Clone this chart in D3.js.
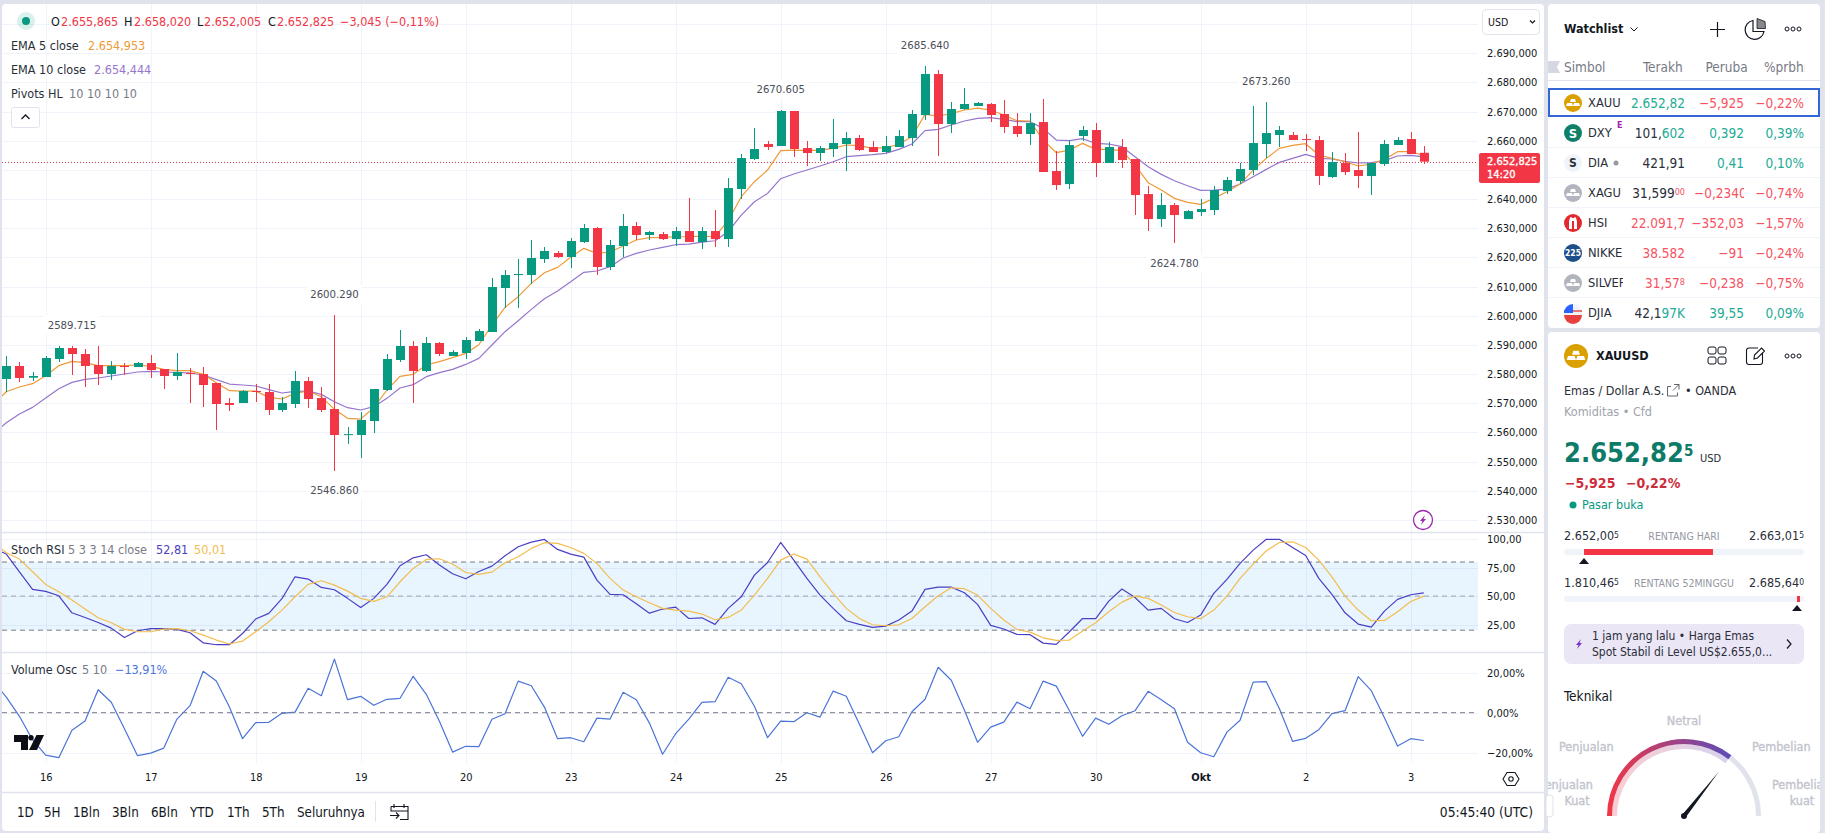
<!DOCTYPE html>
<html>
<head>
<meta charset="utf-8">
<title>XAUUSD</title>
<script src="https://cdn.jsdelivr.net/npm/d3@7"></script>
<style>
html,body{margin:0;padding:0;background:#e0e3eb;}
svg{display:block;}
text{font-family:"DejaVu Sans Condensed","DejaVu Sans",sans-serif;}
</style>
</head>
<body>
<svg id="chart" width="1825" height="833"></svg>
<script>
// candles, one per 3 hours
var open = [2578.30,2582.76,2578.75,2578.98,2585.16,2588.93,2586.87,2583.10,2580.01,2582.76,2582.41,2583.79,2581.73,2579.33,2580.40,2580.01,2576.93,2570.07,2570.07,2574.20,2573.84,2567.67,2569.73,2577.61,2571.78,2568.01,2559.10,2559.10,2563.89,2574.53,2584.81,2589.62,2581.04,2590.64,2586.18,2587.21,2591.32,2594.41,2609.50,2613.95,2613.95,2619.44,2621.50,2620.13,2625.27,2630.07,2616.70,2623.90,2630.76,2627.67,2628.00,2626.28,2629.03,2625.26,2629.03,2626.28,2643.43,2653.72,2658.86,2658.17,2670.18,2657.49,2655.77,2657.15,2658.86,2660.92,2657.83,2656.12,2657.83,2660.92,2668.80,2682.86,2665.72,2670.86,2671.89,2672.58,2669.15,2665.03,2662.29,2666.40,2649.60,2645.14,2661.60,2663.66,2652.35,2657.83,2653.72,2641.71,2633.14,2637.94,2633.14,2635.54,2636.23,2642.74,2646.17,2649.95,2658.86,2661.95,2661.95,2660.58,2660.23,2647.55,2652.35,2649.95,2647.89,2652.00,2658.52,2660.58,2655.865];
var high = [2586.19,2584.13,2580.70,2586.19,2589.50,2589.715,2588.59,2589.62,2584.47,2583.79,2584.13,2586.53,2581.73,2587.21,2582.07,2582.41,2576.93,2571.78,2574.40,2576.58,2576.58,2572.13,2581.04,2578.98,2575.56,2600.29,2561.84,2566.98,2574.87,2586.87,2595.10,2591.33,2592.70,2590.99,2588.24,2592.69,2595.44,2612.93,2615.67,2619.44,2625.95,2623.55,2622.18,2626.64,2631.44,2630.41,2625.95,2634.87,2632.13,2629.04,2628.68,2630.40,2640.34,2630.40,2636.23,2647.20,2655.43,2664.35,2659.89,2670.605,2670.30,2659.89,2658.17,2667.43,2662.97,2661.95,2659.89,2661.60,2663.66,2670.52,2685.64,2684.23,2673.26,2678.06,2673.26,2672.92,2673.95,2669.49,2669.49,2674.29,2656.46,2660.23,2665.03,2666.06,2659.55,2660.58,2653.72,2644.46,2642.06,2638.63,2636.23,2640.00,2644.46,2647.55,2652.35,2671.89,2673.26,2665.03,2662.97,2662.29,2661.60,2656.12,2655.78,2663.015,2652.35,2660.24,2661.26,2662.98,2658.02];
var low = [2573.72,2577.27,2577.61,2578.98,2584.13,2579.67,2575.56,2576.24,2577.95,2579.67,2582.41,2578.64,2574.87,2577.95,2570.07,2568.70,2560.81,2567.33,2570.07,2570.41,2565.95,2566.98,2568.35,2568.35,2566.98,2546.86,2556.01,2551.21,2559.78,2574.18,2584.13,2570.07,2580.70,2586.19,2586.18,2585.15,2591.32,2594.41,2602.64,2602.64,2610.87,2618.07,2619.78,2616.35,2624.93,2613.95,2615.67,2620.13,2625.95,2625.95,2625.94,2623.88,2625.26,2622.85,2623.54,2623.54,2640.00,2653.37,2656.80,2658.17,2654.40,2651.32,2653.03,2654.40,2649.60,2656.46,2656.12,2655.77,2657.83,2658.17,2667.09,2654.75,2662.63,2670.52,2671.89,2666.40,2662.63,2661.26,2658.52,2649.26,2643.09,2643.43,2659.89,2647.55,2652.35,2650.63,2634.51,2629.03,2630.40,2624.78,2633.14,2634.17,2634.51,2641.71,2645.14,2648.23,2654.06,2657.83,2660.23,2656.46,2644.80,2647.20,2648.23,2643.78,2641.38,2651.32,2658.52,2655.43,2652.005];
var close = [2582.76,2578.64,2579.33,2585.50,2588.93,2586.87,2582.76,2580.01,2582.76,2582.41,2583.79,2581.38,2579.33,2580.70,2580.00,2576.24,2569.73,2569.40,2574.18,2573.84,2567.67,2570.07,2577.61,2571.44,2567.67,2559.10,2559.40,2564.24,2574.87,2585.16,2589.62,2581.04,2590.64,2586.87,2587.55,2591.67,2594.75,2609.84,2613.95,2614.30,2619.78,2622.18,2620.13,2625.61,2630.07,2616.70,2624.24,2630.76,2627.67,2628.70,2626.28,2629.03,2625.26,2629.03,2626.28,2643.77,2654.06,2657.15,2657.83,2670.18,2657.15,2655.77,2657.49,2659.20,2660.92,2656.80,2656.12,2658.17,2661.60,2669.15,2682.86,2665.72,2670.86,2672.58,2672.92,2668.80,2664.69,2662.29,2666.06,2649.26,2644.80,2658.52,2663.66,2652.35,2657.83,2653.37,2641.37,2633.14,2637.94,2634.51,2635.88,2636.57,2643.09,2646.52,2650.29,2659.20,2662.63,2663.66,2660.23,2660.23,2647.89,2652.69,2649.26,2647.89,2652.35,2658.86,2660.24,2655.43,2652.825];

// indicator lines: the first value belongs to the bar just left of the first candle
var ema5 = [2569.50,2573.95,2575.56,2576.70,2579.44,2582.87,2584.36,2583.90,2582.87,2582.87,2582.87,2583.10,2582.64,2581.61,2581.16,2581.16,2579.90,2577.04,2574.30,2574.18,2574.18,2572.01,2571.44,2573.38,2574.18,2572.24,2567.90,2564.81,2564.58,2568.47,2574.53,2579.21,2579.90,2583.10,2584.24,2585.61,2587.09,2590.06,2596.81,2602.87,2606.52,2611.10,2614.75,2616.58,2620.01,2623.10,2621.38,2621.84,2623.90,2625.96,2626.76,2626.86,2627.08,2627.08,2627.31,2627.08,2632.57,2640.80,2645.94,2649.94,2656.57,2656.80,2656.57,2656.80,2657.37,2658.52,2658.29,2657.37,2657.60,2658.75,2661.37,2669.03,2668.46,2669.26,2670.52,2671.20,2670.52,2668.80,2666.86,2666.75,2660.23,2655.89,2656.80,2659.09,2657.03,2657.03,2656.57,2651.66,2645.60,2643.09,2640.23,2638.86,2638.17,2640.23,2642.51,2645.14,2649.94,2653.94,2657.37,2658.40,2658.97,2655.09,2653.95,2652.80,2651.32,2652.00,2653.60,2656.23,2656.23,2654.953];
var ema10 = [2559.30,2563.32,2566.30,2568.58,2571.78,2574.98,2577.16,2578.18,2578.64,2579.33,2580.01,2580.70,2580.93,2580.70,2580.58,2580.36,2579.67,2578.07,2576.58,2576.24,2575.90,2574.64,2573.50,2574.07,2574.18,2573.04,2570.52,2568.47,2567.67,2568.81,2571.67,2575.21,2576.35,2579.10,2580.47,2581.61,2583.30,2585.38,2589.95,2594.52,2598.29,2602.18,2605.84,2608.47,2611.67,2614.87,2615.33,2616.81,2619.78,2621.38,2622.53,2623.43,2624.34,2624.57,2625.26,2625.71,2628.80,2634.51,2639.08,2641.94,2646.97,2648.57,2649.94,2651.32,2652.80,2654.52,2654.86,2655.20,2655.66,2657.03,2658.86,2663.43,2663.89,2665.37,2666.75,2667.66,2667.89,2667.32,2666.52,2666.52,2664.23,2660.23,2660.00,2660.69,2659.09,2658.86,2657.95,2654.52,2651.09,2648.46,2646.29,2644.57,2642.97,2643.09,2643.43,2645.14,2647.66,2650.17,2652.57,2653.94,2655.32,2653.95,2653.72,2652.92,2652.35,2652.46,2653.15,2654.75,2654.98,2654.444];
var stochK = [92.3,87.0,71.4,55.9,54.1,50.3,35.3,31.2,26.8,21.8,13.6,19.5,21.3,21.3,20.7,17.7,8.9,7.2,7.2,17.1,29.8,34.8,47.7,67.0,65.0,57.6,55.6,48.0,40.0,48.0,60.3,76.7,83.7,86.4,77.3,69.7,65.3,71.7,76.4,85.5,93.4,97.5,99.9,91.1,87.0,84.3,64.1,51.5,51.2,43.3,35.0,38.6,40.3,30.3,30.9,25.1,39.2,49.4,68.5,79.6,97.2,81.7,65.6,50.9,39.2,28.3,25.1,22.4,23.6,28.9,36.8,55.9,57.9,57.9,52.9,42.7,24.2,21.0,16.3,16.0,8.6,7.5,18.6,30.3,30.1,45.6,56.2,48.8,37.7,39.2,30.1,26.8,33.3,52.4,64.7,78.8,90.5,100,100,92.8,85.8,65.6,51.5,35.3,25.4,22.7,36.8,47.1,51.2,52.81];
var stochD = [97.5,88.1,82.6,71.4,60.3,53.8,46.5,38.6,30.9,26.5,20.7,18.6,18.6,21.0,21.3,19.5,15.7,11.3,7.8,10.4,18.6,27.4,37.7,49.4,60.3,63.5,59.7,54.4,48.0,45.3,49.4,62.6,74.4,82.3,82.9,78.2,70.8,69.1,71.1,79.3,84.6,92.0,97.0,96.4,92.8,87.6,78.8,65.6,55.3,49.4,44.1,39.2,37.7,36.8,34.2,29.2,31.2,37.7,50.9,65.6,81.7,87.0,82.6,67.0,52.4,39.2,30.3,24.8,23.9,24.8,30.3,40.6,50.3,57.3,56.5,50.9,39.2,28.9,20.7,18.3,13.3,11.0,11.3,19.2,26.5,36.2,44.7,50.0,48.0,42.1,35.6,31.8,30.1,37.7,50.0,65.6,78.2,89.9,97.2,97.8,92.8,81.7,67.0,50.0,37.7,28.3,28.6,36.2,45.3,50.01];
var volumeOsc = [15.8,7.8,-1.8,-13.5,-21.2,-22.5,-8.8,-4.2,11.5,5.2,-8.0,-21.5,-20.2,-17.7,-3.2,3.5,20.7,15.8,2.8,-13.0,-5.0,-4.8,-0.3,0.3,12.2,8.5,26.8,6.5,8.2,3.7,6.7,7.2,18.2,9.2,-4.3,-19.7,-16.8,-17.0,-3.3,-0.5,15.8,13.5,2.8,-13.0,-12.5,-14.5,-2.7,-3.2,10.2,6.5,-5.2,-20.8,-10.5,-3.2,5.2,5.5,17.7,14.5,3.2,-12.5,-4.2,-4.5,0,-2.2,10.8,8.2,-5.8,-20.0,-14.0,-12.0,0.5,6.7,22.7,16.2,1.2,-14.8,-7.2,-4.7,5.3,2.0,15.8,13.3,1.0,-11.8,-2.7,-5.8,-1.5,1.0,10.7,6.5,2.0,-14.8,-20.0,-22.0,-9.7,-3.8,15.3,15.5,2.0,-14.3,-12.8,-8.5,-0.5,1.0,18.0,11.0,-2.5,-16.7,-13.0,-13.91];

// pivots: bar index, value, and whether the label sits over the high
var pivotBars = [5,25,25,59,70,89,96];
var pivotValues = [2589.715,2600.29,2546.86,2670.605,2685.64,2624.78,2673.26];
var pivotIsHigh = [true,true,false,true,true,false,true];

var dayBars = [3,11,19,27,35,43,51,59,67,75,83,91,99,107];
var dayLabels = ["16","17","18","19","20","23","24","25","26","27","30","Okt","2","3"];

// 2650 has no tick label, the price tag sits on top of it
var priceTicks = [2530,2540,2550,2560,2570,2580,2590,2600,2610,2620,2630,2640,2660,2670,2680,2690];
var priceGrid = [2530,2540,2550,2560,2570,2580,2590,2600,2610,2620,2630,2640,2650,2660,2670,2680,2690,2700];
var stochTicks = [25,50,75,100];
var stochLevels = [20,50,80];
var volumeTicks = [-20,0,20];
var lastPrice = 2652.825;
var countdown = "14:20";

var rangeButtons = ["1D","5H","1Bln","3Bln","6Bln","YTD","1Th","5Th","Seluruhnya"];

// watchlist table
var watchHeaders = ["Terakh","Peruba","%prbhn"];
var watchSymbols = ["XAUU","DXY","DIA","XAGU","HSI","NIKKE","SILVEF","DJIA"];
var watchLastHead = ["","101,","421,91","31,599","","","","42,1"];
var watchLastTail = ["2.652,82","602","","","22.091,7","38.582","31,57","97K"];
var watchLastSup = ["","","","00","","","8",""];
var watchTick = [1,1,0,-1,-1,-1,-1,1];
var watchChange = ["−5,925","0,392","0,41","−0,2340","−352,03","−91","−0,238","39,55"];
var watchPercent = ["−0,22%","0,39%","0,10%","−0,74%","−1,57%","−0,24%","−0,75%","0,09%"];

var UP = "#089981", DOWN = "#f23645", GRID = "#f0f3fa", BORDER = "#e0e3eb";
var TEXT = "#131722", MUTED = "#787b86";
var TABLE_UP = "#22ab94", TABLE_DOWN = "#f7525f";
var EMA5_COLOR = "#f09a37", EMA10_COLOR = "#9575cd", K_COLOR = "#4a3fc4", D_COLOR = "#f3bd4e", VOL_COLOR = "#4b74d8";
var AXIS_FONT = 11;

var comma = d3.formatLocale({decimal:",", thousands:".", grouping:[3], currency:["",""], minus:"−"});
var fmtPrice = comma.format(",.3f");
var fmt2 = comma.format(".2f");

var svg = d3.select("#chart");
var defs = svg.append("defs");

function clipRect(id, x, y, w, h){
	defs.append("clipPath").attr("id", id).append("rect")
		.attr("x", x).attr("y", y).attr("width", w).attr("height", h);
}
function txt(parent, x, y, s, size, fill, anchor, weight){
	return parent.append("text")
		.attr("x", x).attr("y", y).attr("dy", "0.35em")
		.attr("font-size", size).attr("fill", fill)
		.attr("text-anchor", anchor || "start")
		.attr("font-weight", weight || 400)
		.text(s);
}

// panels
svg.append("rect").attr("x", 2).attr("y", 4).attr("width", 1542).attr("height", 827).attr("rx", 4).attr("fill", "#fff");
svg.append("rect").attr("x", 1548).attr("y", 4).attr("width", 272).attr("height", 324).attr("rx", 4).attr("fill", "#fff");
svg.append("rect").attr("x", 1548).attr("y", 332).attr("width", 272).attr("height", 501).attr("rx", 4).attr("fill", "#fff");

clipRect("paneClip", 2, 4, 1476, 760);
clipRect("mainClip", 2, 4, 1476, 528);

// scales
var x = d3.scaleLinear().domain([0, 108]).range([6.3, 1423.8]);
var yPrice = d3.scaleLinear().domain([2530, 2690]).range([519.9, 53.2]);
var yStoch = d3.scaleLinear().domain([0, 100]).range([652.9, 539.3]);
var yVol = d3.scaleLinear().domain([-20, 20]).range([752.7, 672.7]);

// grid
var grid = svg.append("g").attr("stroke", GRID).attr("stroke-width", 1).attr("shape-rendering", "crispEdges");
grid.selectAll(".gv").data(dayBars).enter().append("line")
	.attr("x1", function(d){ return Math.round(x(d)) + 0.5; })
	.attr("x2", function(d){ return Math.round(x(d)) + 0.5; })
	.attr("y1", 4).attr("y2", 763);
function hGrid(values, scale){
	grid.selectAll(null).data(values).enter().append("line")
		.attr("x1", 2).attr("x2", 1478)
		.attr("y1", function(d){ return Math.round(scale(d)) + 0.5; })
		.attr("y2", function(d){ return Math.round(scale(d)) + 0.5; });
}
hGrid(priceGrid, yPrice);
hGrid(stochTicks, yStoch);
hGrid(volumeTicks, yVol);

// pane separators
var seps = [532.5, 652.5, 792.5];
svg.selectAll(".sep").data(seps).enter().append("line")
	.attr("x1", 2).attr("x2", 1544)
	.attr("y1", function(d){ return d; }).attr("y2", function(d){ return d; })
	.attr("stroke", BORDER).attr("stroke-width", 1.5);

// last price line
svg.append("line")
	.attr("x1", 2).attr("x2", 1478)
	.attr("y1", Math.round(yPrice(lastPrice)) + 0.5).attr("y2", Math.round(yPrice(lastPrice)) + 0.5)
	.attr("stroke", "#d8404e").attr("stroke-width", 1).attr("stroke-dasharray", "1 2");

// moving averages sit under the candles
var main = svg.append("g").attr("clip-path", "url(#mainClip)");
function drawLine(parent, values, scale, color, width){
	var line = d3.line().x(function(d, i){ return x(i - 1); }).y(function(d){ return scale(d); });
	parent.append("path").datum(values)
		.attr("d", line).attr("fill", "none")
		.attr("stroke", color).attr("stroke-width", width || 1.2)
		.attr("stroke-linejoin", "round");
}
drawLine(main, ema10, yPrice, EMA10_COLOR);
drawLine(main, ema5, yPrice, EMA5_COLOR);

// candles
var candles = main.selectAll(".candle").data(open).enter().append("g").attr("class", "candle");
function candleColor(i){ return close[i] >= open[i] ? UP : DOWN; }
candles.append("line")
	.attr("x1", function(d, i){ return Math.round(x(i)) + 0.5; })
	.attr("x2", function(d, i){ return Math.round(x(i)) + 0.5; })
	.attr("y1", function(d, i){ return yPrice(high[i]); })
	.attr("y2", function(d, i){ return yPrice(low[i]); })
	.attr("stroke", function(d, i){ return candleColor(i); })
	.attr("stroke-width", 1).attr("shape-rendering", "crispEdges");
candles.append("rect")
	.attr("x", function(d, i){ return Math.round(x(i)) - 4; })
	.attr("width", 9)
	.attr("y", function(d, i){ return yPrice(Math.max(open[i], close[i])); })
	.attr("height", function(d, i){ return Math.max(1, Math.abs(yPrice(open[i]) - yPrice(close[i]))); })
	.attr("fill", function(d, i){ return candleColor(i); });

// pivot labels
var pivots = svg.append("g");
pivotBars.forEach(function(b, i){
	var py = yPrice(pivotValues[i]) + (pivotIsHigh[i] ? -21 : 19.5);
	pivots.append("rect").attr("x", x(b) - 28).attr("y", py - 9).attr("width", 56).attr("height", 18).attr("fill", "#fff");
	txt(pivots, x(b), py, pivotValues[i].toFixed(3), 11.3, "#4a4e59", "middle");
});

// stoch rsi pane
svg.append("rect")
	.attr("x", 2).attr("width", 1476)
	.attr("y", yStoch(80)).attr("height", yStoch(20) - yStoch(80))
	.attr("fill", "#2196f3").attr("fill-opacity", 0.1);
svg.selectAll(".lvl").data(stochLevels).enter().append("line")
	.attr("x1", 2).attr("x2", 1478)
	.attr("y1", function(d){ return yStoch(d); }).attr("y2", function(d){ return yStoch(d); })
	.attr("stroke", function(d){ return d == 50 ? "#a0a3ad" : "#787b86"; })
	.attr("stroke-width", 1).attr("stroke-dasharray", "5 4");
var lower = svg.append("g").attr("clip-path", "url(#paneClip)");
drawLine(lower, stochK, yStoch, K_COLOR);
drawLine(lower, stochD, yStoch, D_COLOR);

// volume oscillator pane
svg.append("line")
	.attr("x1", 2).attr("x2", 1478)
	.attr("y1", yVol(0)).attr("y2", yVol(0))
	.attr("stroke", "#787b86").attr("stroke-width", 1).attr("stroke-dasharray", "5 4");
drawLine(lower, volumeOsc, yVol, VOL_COLOR);

// right axes
function rightAxis(scale, ticks, fmt){
	var g = svg.append("g").attr("transform", "translate(1480,0)")
		.call(d3.axisRight(scale).tickValues(ticks).tickFormat(fmt).tickSize(0).tickPadding(7));
	g.select(".domain").remove();
	g.selectAll("text").attr("font-size", AXIS_FONT).attr("fill", "#131722")
		.attr("font-family", "\"DejaVu Sans Condensed\",\"DejaVu Sans\",sans-serif");
	return g;
}
rightAxis(yPrice, priceTicks, fmtPrice);
rightAxis(yStoch, stochTicks, fmt2);
rightAxis(yVol, volumeTicks, function(d){ return fmt2(d) + "%"; });

// time axis
var timeAxis = svg.append("g").attr("transform", "translate(0,770)")
	.call(d3.axisBottom(x).tickValues(dayBars).tickFormat(function(d, i){ return dayLabels[i]; }).tickSize(0).tickPadding(3));
timeAxis.select(".domain").remove();
timeAxis.selectAll("text").attr("font-size", AXIS_FONT).attr("fill", "#131722")
	.attr("font-family", "\"DejaVu Sans Condensed\",\"DejaVu Sans\",sans-serif")
	.attr("font-weight", function(d, i){ return dayLabels[i] == "Okt" ? 700 : 400; });

// price tag
svg.append("rect").attr("x", 1479).attr("y", 153).attr("width", 61).attr("height", 30).attr("rx", 2).attr("fill", DOWN);
txt(svg, 1487, 161.5, fmtPrice(lastPrice), AXIS_FONT, "#fff").attr("stroke", "#fff").attr("stroke-width", 0.35);
txt(svg, 1487, 174.5, countdown, AXIS_FONT, "#fff").attr("stroke", "#fff").attr("stroke-width", 0.35);

// USD box
svg.append("rect").attr("x", 1482.5).attr("y", 9.5).attr("width", 57).attr("height", 25).attr("rx", 4).attr("fill", "#fff").attr("stroke", BORDER);
txt(svg, 1488, 22, "USD", 10.5, TEXT);
svg.append("path").attr("d", "M1530 20.5l2.5 2.5 2.5-2.5").attr("fill", "none").attr("stroke", TEXT).attr("stroke-width", 1.2);

// legend
svg.append("circle").attr("cx", 26).attr("cy", 21).attr("r", 9).attr("fill", UP).attr("fill-opacity", 0.15);
svg.append("circle").attr("cx", 26).attr("cy", 21).attr("r", 4).attr("fill", UP);
var ohlcNames = ["O","H","L","C"];
var ohlcNameX = [51,124,197,268];
var ohlcValueX = [61,134,204,277];
var ohlcValues = [open[108], high[108], low[108], close[108]];
ohlcNames.forEach(function(n, i){
	txt(svg, ohlcNameX[i], 21.5, n, 12.5, TEXT);
	txt(svg, ohlcValueX[i], 21.5, fmtPrice(ohlcValues[i]), 12.5, DOWN);
});
txt(svg, 340, 21.5, "−3,045 (−0,11%)", 12.5, DOWN);
txt(svg, 11, 45.5, "EMA 5 close", 12.5, "#2a2e39");
txt(svg, 88, 45.5, fmtPrice(ema5[109]), 12.5, EMA5_COLOR);
txt(svg, 11, 69.5, "EMA 10 close", 12.5, "#2a2e39");
txt(svg, 94, 69.5, fmtPrice(ema10[109]), 12.5, EMA10_COLOR);
txt(svg, 11, 93.5, "Pivots HL", 12.5, "#2a2e39");
txt(svg, 69, 93.5, "10 10 10 10", 12.5, MUTED);
svg.append("rect").attr("x", 11.5).attr("y", 107.5).attr("width", 28).attr("height", 20).attr("rx", 2).attr("fill", "#fff").attr("stroke", BORDER);
svg.append("path").attr("d", "M21.5 119l4-4 4 4").attr("fill", "none").attr("stroke", TEXT).attr("stroke-width", 1.3);

txt(svg, 11, 549.5, "Stoch RSI", 12.5, "#2a2e39");
txt(svg, 68, 549.5, "5 3 3 14 close", 12.5, MUTED);
txt(svg, 156, 549.5, fmt2(stochK[109]), 12.5, K_COLOR);
txt(svg, 194, 549.5, fmt2(stochD[109]), 12.5, D_COLOR);
txt(svg, 11, 669.5, "Volume Osc", 12.5, "#2a2e39");
txt(svg, 82, 669.5, "5 10", 12.5, MUTED);
txt(svg, 115, 669.5, fmt2(volumeOsc[109]) + "%", 12.5, VOL_COLOR);

// tradingview mark
svg.append("path").attr("d", "M14 735h14v15h-7v-8h-7z").attr("fill", "#0b0e15");
svg.append("circle").attr("cx", 31).attr("cy", 737.8).attr("r", 2.7).attr("fill", "#0b0e15");
svg.append("path").attr("d", "M36.500 735H44L37 750h-8z").attr("fill", "#0b0e15");

// lightning badge
function bolt(parent, cx, cy, color, s){
	parent.append("path")
		.attr("transform", "translate(" + cx + "," + cy + ") scale(" + s + ")")
		.attr("d", "M2-5L-3 1H-.5L-2 5 3-1H.5z").attr("fill", color);
}
svg.append("circle").attr("cx", 1423).attr("cy", 520).attr("r", 9.5).attr("fill", "#fff").attr("stroke", "#9c27b0").attr("stroke-width", 1.3);
bolt(svg, 1423, 520, "#9c27b0", 1);

// settings hexagon
svg.append("path").attr("d", "M1507 772.500h8l4 6.500-4 6.500h-8l-4-6.500z").attr("fill", "none").attr("stroke", TEXT).attr("stroke-width", 1.1);
svg.append("circle").attr("cx", 1511).attr("cy", 779).attr("r", 2.2).attr("fill", "none").attr("stroke", TEXT).attr("stroke-width", 1.1);

// range toolbar
var rangeX = [17,44,73,112,151,190,227,262,297];
rangeButtons.forEach(function(b, i){
	txt(svg, rangeX[i], 812, b, 13.3, "#131722");
});
svg.append("line").attr("x1", 375.5).attr("x2", 375.5).attr("y1", 801).attr("y2", 822).attr("stroke", BORDER);
svg.append("path").attr("d", "M394 804v4M404 804v4M391 806.500h17v13h-8M391 806.500v5M391 811h17M390 815.500h9M396 812.500l3 3-3 3")
	.attr("fill", "none").attr("stroke", TEXT).attr("stroke-width", 1.1);
txt(svg, 1533, 812, "05:45:40 (UTC)", 13.7, "#131722", "end");

// watchlist panel
var panel = svg.append("g");
txt(panel, 1564, 29, "Watchlist", 12.5, TEXT, "start", 700);
panel.append("path").attr("d", "M1630.500 27.500l3.500 3.500 3.500-3.500").attr("fill", "none").attr("stroke", TEXT).attr("stroke-width", 1);
panel.append("path").attr("d", "M1717.500 22v15M1710 29.500h15").attr("stroke", TEXT).attr("stroke-width", 1.2);
panel.append("path").attr("d", "M1753 20.500a9.500 9.500 0 1 0 11 11h-11z").attr("fill", "none").attr("stroke", TEXT).attr("stroke-width", 1.2);
panel.append("path").attr("d", "M1757 18.500l8 3 .5 7h-8.500z").attr("fill", "#888").attr("stroke", TEXT).attr("stroke-width", .8);
function dots(cx, cy){
	[-6, 0, 6].forEach(function(o){
		panel.append("circle").attr("cx", cx + o).attr("cy", cy).attr("r", 2).attr("fill", "none").attr("stroke", TEXT).attr("stroke-width", 1);
	});
}
dots(1793, 29);
panel.append("path").attr("d", "M1548 61h12l-3 6 3 6h-12z").attr("fill", "#d5d8e0");
txt(panel, 1564, 67, "Simbol", 13.5, MUTED);
clipRect("hdrClip", 1640, 56, 164.5, 22);
var headerX = [1643, 1705.5, 1764];
watchHeaders.forEach(function(h, i){
	txt(panel, headerX[i], 67, h, 13.5, MUTED).attr("clip-path", "url(#hdrClip)");
});
panel.append("line").attr("x1", 1548).attr("x2", 1820).attr("y1", 80.5).attr("y2", 80.5).attr("stroke", BORDER).attr("stroke-width", 1.2);

var rowY = d3.scaleLinear().domain([0, 7]).range([103, 313]);
clipRect("symClip", 1586, 90, 37, 236);
clipRect("chgClip", 1690, 90, 54, 236);

// small coin icon for each row
function coin(parent, cx, cy, r, name){
	var fills = {XAUU:"#daa000", XAUUSD:"#daa000", DXY:"#0e7f68", DIA:"#f0f3fa", XAGU:"#b2b5be", HSI:"#e02a2f", NIKKE:"#1d4e89", SILVEF:"#b2b5be", DJIA:"#f0f3fa"};
	parent.append("circle").attr("cx", cx).attr("cy", cy).attr("r", r).attr("fill", fills[name]);
	var k = r / 9;
	if(name == "XAUU" || name == "XAUUSD" || name == "XAGU" || name == "SILVEF"){
		parent.append("path").attr("transform", "translate(" + cx + "," + cy + ") scale(" + k + ")")
			.attr("d", "M-2-4h4l1 3h-6zM-6 0h5l1 3h-7zM1 0h5l1 3h-7z").attr("fill", "#fff");
	}
	else if(name == "DXY"){
		txt(parent, cx, cy, "S", 13, "#fff", "middle", 700);
	}
	else if(name == "DIA"){
		txt(parent, cx, cy, "S", 12, "#2a2e39", "middle", 700);
	}
	else if(name == "HSI"){
		parent.append("path").attr("transform", "translate(" + cx + "," + cy + ") scale(" + k + ")")
			.attr("d", "M-4 6v-5a2 6 0 0 1 3-6h2a2 6 0 0 1 3 6v5h-3v-8h-2v8z").attr("fill", "#fff");
	}
	else if(name == "NIKKE"){
		txt(parent, cx, cy, "225", 8.5, "#fff", "middle", 700);
	}
	else if(name == "DJIA"){
		parent.append("path").attr("d", "M" + (cx - 9) + " " + (cy + 2) + "h18a9 9 0 0 1-18 0z").attr("fill", "#e8403f");
		parent.append("path").attr("d", "M" + (cx - 9) + " " + (cy - 2) + "h18").attr("stroke", "#e8403f").attr("stroke-width", 1.4);
		parent.append("path").attr("d", "M" + (cx - 9) + " " + cy + "a9 9 0 0 1 9-9v9z").attr("fill", "#2962ff");
	}
}

watchSymbols.forEach(function(s, i){
	var y = rowY(i);
	if(i > 0 && i < 7){
		panel.append("line").attr("x1", 1548).attr("x2", 1820).attr("y1", y + 14.5).attr("y2", y + 14.5).attr("stroke", GRID).attr("stroke-width", 1);
	}
	coin(panel, 1573, y, 9, s);
	txt(panel, 1588, y, s, 12.8, "#2a2e39").attr("clip-path", "url(#symClip)");
	var tick = watchTick[i] > 0 ? TABLE_UP : (watchTick[i] < 0 ? TABLE_DOWN : TEXT);
	var t = txt(panel, 1685, y, "", 13.5, tick, "end");
	t.append("tspan").attr("fill", "#2a2e39").text(watchLastHead[i]);
	t.append("tspan").text(watchLastTail[i]);
	if(watchLastSup[i]){
		t.append("tspan").attr("font-size", 9).attr("dy", "-3").text(watchLastSup[i]);
	}
	var up = watchChange[i].charAt(0) != "−";
	if(s == "XAGU"){
		txt(panel, 1694, y, watchChange[i], 13.5, TABLE_DOWN).attr("clip-path", "url(#chgClip)");
	} else {
		txt(panel, 1744, y, watchChange[i], 13.5, up ? TABLE_UP : TABLE_DOWN, "end");
	}
	txt(panel, 1804, y, watchPercent[i], 13.5, up ? TABLE_UP : TABLE_DOWN, "end");
});
panel.append("text").attr("x", 1617).attr("y", 128).attr("font-size", 9).attr("fill", "#9c27b0").attr("font-weight", 700).text("E");
panel.append("circle").attr("cx", 1616).attr("cy", 163).attr("r", 2.5).attr("fill", "#9598a1");
panel.append("rect").attr("x", 1549).attr("y", 89).attr("width", 270).attr("height", 27)
	.attr("fill", "none").attr("stroke", "#3566d6").attr("stroke-width", 2);

// symbol details
coin(panel, 1576, 356, 12, "XAUUSD");
txt(panel, 1596, 356, "XAUUSD", 12.5, TEXT, "start", 700);
[[1708,347],[1718,347],[1708,357],[1718,357]].forEach(function(p){
	panel.append("rect").attr("x", p[0]).attr("y", p[1]).attr("width", 8).attr("height", 7).attr("rx", 2).attr("fill", "none").attr("stroke", TEXT).attr("stroke-width", 1);
});
panel.append("path").attr("d", "M1758 348h-9a2.500 2.500 0 0 0-2.500 2.500v11.500a2.500 2.500 0 0 0 2.500 2.500h11a2.500 2.500 0 0 0 2.500-2.500v-9M1754 359l.5-4 7-7 3 3-7 7z")
	.attr("fill", "none").attr("stroke", TEXT).attr("stroke-width", 1.1);
dots(1793, 356);
txt(panel, 1564, 391, "Emas / Dollar A.S.", 12.5, "#2a2e39");
panel.append("path").attr("d", "M1671 386.500h-3.500v9.500h10v-3.500M1674 384.500h5v5M1679 384.500l-6 6").attr("fill", "none").attr("stroke", "#50535e").attr("stroke-width", .9);
txt(panel, 1685, 391, "• OANDA", 12.5, "#2a2e39");
txt(panel, 1564, 412, "Komiditas • Cfd", 12.5, "#a0a3ad");
var bigPrice = txt(panel, 1564, 453, "", 27, "#0e7a68", "start", 700);
bigPrice.append("tspan").text("2.652,82");
bigPrice.append("tspan").attr("font-size", 15).attr("dy", "-6").text("5");
txt(panel, 1700, 458, "USD", 11, "#2a2e39");
txt(panel, 1565, 483, "−5,925", 14, "#cc2f3c", "start", 700);
txt(panel, 1626, 483, "−0,22%", 14, "#cc2f3c", "start", 700);
panel.append("circle").attr("cx", 1573).attr("cy", 505).attr("r", 3.5).attr("fill", UP);
txt(panel, 1582, 505, "Pasar buka", 12.5, UP);

function rangeRow(y, left, leftSup, title, right, rightSup, barY, fromX, toX, markX){
	var a = txt(panel, 1564, y, left, 12.5, "#2a2e39");
	a.append("tspan").attr("font-size", 8.5).attr("dy", "-2").text(leftSup);
	txt(panel, 1684, y, title, 10.5, "#9598a1", "middle");
	var b = txt(panel, 1804, y, right, 12.5, "#2a2e39", "end");
	b.append("tspan").attr("font-size", 8.5).attr("dy", "-2").text(rightSup);
	panel.append("rect").attr("x", 1564).attr("y", barY).attr("width", 240).attr("height", 6).attr("rx", 3).attr("fill", GRID);
	panel.append("rect").attr("x", fromX).attr("y", barY).attr("width", toX - fromX).attr("height", 6).attr("fill", DOWN);
	panel.append("path").attr("d", "M" + markX + " " + (barY + 9) + "l5 6h-10z").attr("fill", TEXT);
}
rangeRow(536, "2.652,00", "5", "RENTANG HARI", "2.663,01", "5", 549, 1584, 1713, 1584);
rangeRow(583, "1.810,46", "5", "RENTANG 52MINGGU", "2.685,64", "0", 596, 1797, 1800, 1797);

// news box
panel.append("rect").attr("x", 1564).attr("y", 624).attr("width", 240).attr("height", 40).attr("rx", 7).attr("fill", "#ebe6f5");
bolt(panel, 1579, 644, "#7b32c9", 1);
txt(panel, 1592, 636, "1 jam yang lalu  •  Harga Emas", 12, "#2a2e39");
txt(panel, 1592, 652, "Spot Stabil di Level US$2.655,0...", 12, "#2a2e39");
panel.append("path").attr("d", "M1787 639.500l4 4.500-4 4.500").attr("fill", "none").attr("stroke", TEXT).attr("stroke-width", 1.2);

// technical gauge
txt(panel, 1564, 696, "Teknikal", 13.5, TEXT);
var gauge = panel.append("g").attr("transform", "translate(1684,816)");
var grad = defs.append("linearGradient").attr("id", "gaugeGrad").attr("gradientUnits", "userSpaceOnUse")
	.attr("x1", -77).attr("x2", 47).attr("y1", 0).attr("y2", 0);
grad.append("stop").attr("offset", 0).attr("stop-color", "#f23645");
grad.append("stop").attr("offset", 1).attr("stop-color", "#5b4db8");
var gaugeEnd = 38 * Math.PI / 180;
function gaugeArc(r0, r1, a0, a1){
	return d3.arc()({innerRadius:r0, outerRadius:r1, startAngle:a0, endAngle:a1});
}
gauge.append("path").attr("d", gaugeArc(72, 77, gaugeEnd, Math.PI / 2)).attr("fill", BORDER);
gauge.append("path").attr("d", gaugeArc(67, 72, -Math.PI / 2, gaugeEnd)).attr("fill", "url(#gaugeGrad)").attr("opacity", 0.25);
gauge.append("path").attr("d", gaugeArc(72, 77, -Math.PI / 2, gaugeEnd)).attr("fill", "url(#gaugeGrad)");
gauge.append("path").attr("d", "M-1.800-1.200L35-44.500 1.800 1.200z").attr("fill", "#131722");
gauge.append("circle").attr("r", 3).attr("fill", "#131722");

clipRect("gaugeClip", 1548, 700, 272, 120);
var gaugeLabels = panel.append("g").attr("clip-path", "url(#gaugeClip)");
function gaugeText(x, y, s, anchor){
	txt(gaugeLabels, x, y, s, 12.5, "#c1c4cd", anchor).attr("stroke", "#c1c4cd").attr("stroke-width", 0.35);
}
gaugeText(1684, 721, "Netral", "middle");
gaugeText(1559, 747, "Penjualan");
gaugeText(1752, 747, "Pembelian");
gaugeText(1593, 785, "Penjualan", "end");
gaugeText(1577, 801, "Kuat", "middle");
gaugeText(1772, 785, "Pembelian");
gaugeText(1802, 801, "kuat", "middle");

// collapse handle between the panels
svg.append("rect").attr("x", 1546).attr("y", 795).attr("width", 7).attr("height", 22).attr("rx", 3).attr("fill", "#fff").attr("stroke", BORDER);
</script>
</body>
</html>
